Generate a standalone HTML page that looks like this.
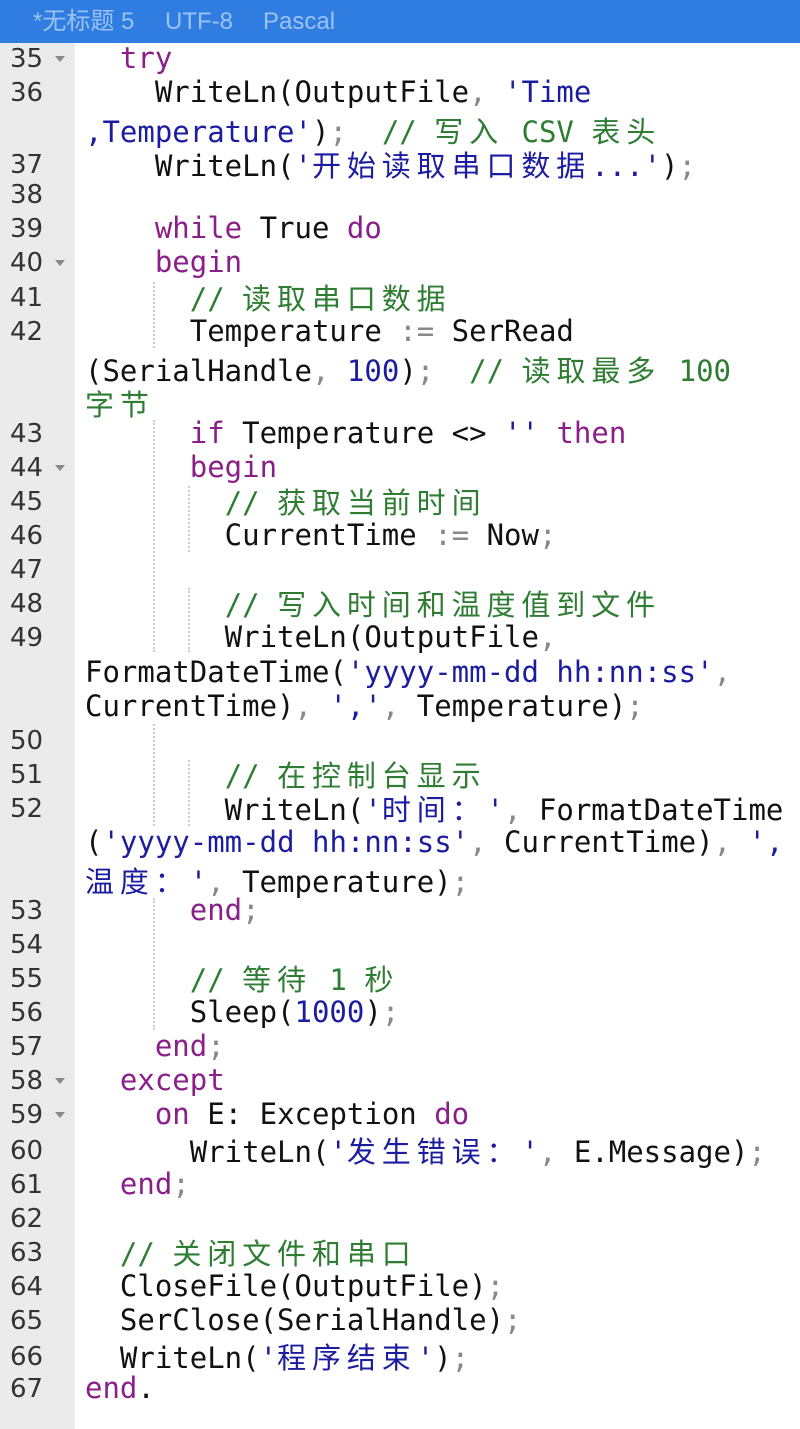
<!DOCTYPE html>
<html><head><meta charset="utf-8"><style>
body{margin:0;width:800px;height:1429px;background:#fff;position:relative;overflow:hidden}
.hdr{position:absolute;left:0;top:0;width:800px;height:43px;background:#2f7de1;color:#9cc2f2;font:24px "Liberation Sans","Noto Sans CJK SC",sans-serif;}
.hdr span{position:absolute;top:8px;line-height:28px;white-space:pre}
.gut{position:absolute;left:0;top:43px;width:75px;height:1386px;background:#ebebeb}
.n{position:absolute;left:10px;width:40px;font:26px "DejaVu Sans","Noto Sans CJK SC",sans-serif;color:#333;line-height:34px;margin-top:1px}
.f{position:absolute;left:55px;width:0;height:0;border-left:5px solid transparent;border-right:5px solid transparent;border-top:6px solid #888}
.l{position:absolute;left:85px;white-space:pre;font:29px "DejaVu Sans Mono","Liberation Mono","Noto Sans CJK SC",monospace;line-height:34px;color:#111}
.c{font-family:"Noto Sans CJK SC",sans-serif;letter-spacing:5.9px}
.k{color:#8a1f8a}.s{color:#1c1ca0}.m{color:#2e7d32}.p{color:#888}.d{color:#1c1ca0}
.g{position:absolute;border-left:2px dotted #ccc}
</style></head><body>
<div class="hdr"><span style="left:33px">*无标题 5</span><span style="left:165px">UTF-8</span><span style="left:263px">Pascal</span></div>
<div class="gut"></div>
<div class="g" style="left:153px;top:282px;height:66px"></div>
<div class="g" style="left:153px;top:420px;height:232px"></div>
<div class="g" style="left:153px;top:724px;height:102px"></div>
<div class="g" style="left:153px;top:898px;height:132px"></div>
<div class="g" style="left:188px;top:486px;height:66px"></div>
<div class="g" style="left:188px;top:588px;height:64px"></div>
<div class="g" style="left:188px;top:760px;height:66px"></div>

<div class="n" style="top:41px">35</div><div class="f" style="top:56px"></div>
<div class="l" style="top:41px">  <span class="k">try</span></div>
<div class="n" style="top:75px">36</div>
<div class="l" style="top:75px">    WriteLn(OutputFile<span class="p">,</span> <span class="s">'Time</span></div>
<div class="l" style="top:113px"><span class="s">,Temperature'</span>)<span class="p">;</span>  <span class="m">// <span class="c">写入</span> CSV <span class="c">表头</span></span></div>
<div class="n" style="top:147px">37</div>
<div class="l" style="top:147px">    WriteLn(<span class="s">'<span class="c">开始读取串口数据</span>...'</span>)<span class="p">;</span></div>
<div class="n" style="top:177px">38</div>
<div class="n" style="top:211px">39</div>
<div class="l" style="top:211px">    <span class="k">while</span> True <span class="k">do</span></div>
<div class="n" style="top:245px">40</div><div class="f" style="top:260px"></div>
<div class="l" style="top:245px">    <span class="k">begin</span></div>
<div class="n" style="top:280px">41</div>
<div class="l" style="top:280px">      <span class="m">// <span class="c">读取串口数据</span></span></div>
<div class="n" style="top:314px">42</div>
<div class="l" style="top:314px">      Temperature <span class="p">:=</span> SerRead</div>
<div class="l" style="top:352px">(SerialHandle<span class="p">,</span> <span class="d">100</span>)<span class="p">;</span>  <span class="m">// <span class="c">读取最多</span> 100</span></div>
<div class="l" style="top:386px"><span class="m"><span class="c">字节</span></span></div>
<div class="n" style="top:416px">43</div>
<div class="l" style="top:416px">      <span class="k">if</span> Temperature &lt;&gt; <span class="s">''</span> <span class="k">then</span></div>
<div class="n" style="top:450px">44</div><div class="f" style="top:465px"></div>
<div class="l" style="top:450px">      <span class="k">begin</span></div>
<div class="n" style="top:484px">45</div>
<div class="l" style="top:484px">        <span class="m">// <span class="c">获取当前时间</span></span></div>
<div class="n" style="top:518px">46</div>
<div class="l" style="top:518px">        CurrentTime <span class="p">:=</span> Now<span class="p">;</span></div>
<div class="n" style="top:552px">47</div>
<div class="n" style="top:586px">48</div>
<div class="l" style="top:586px">        <span class="m">// <span class="c">写入时间和温度值到文件</span></span></div>
<div class="n" style="top:620px">49</div>
<div class="l" style="top:620px">        WriteLn(OutputFile<span class="p">,</span></div>
<div class="l" style="top:655px">FormatDateTime(<span class="s">'yyyy-mm-dd hh:nn:ss'</span><span class="p">,</span></div>
<div class="l" style="top:689px">CurrentTime)<span class="p">,</span> <span class="s">','</span><span class="p">,</span> Temperature)<span class="p">;</span></div>
<div class="n" style="top:723px">50</div>
<div class="n" style="top:757px">51</div>
<div class="l" style="top:757px">        <span class="m">// <span class="c">在控制台显示</span></span></div>
<div class="n" style="top:791px">52</div>
<div class="l" style="top:791px">        WriteLn(<span class="s">'<span class="c">时间：</span>'</span><span class="p">,</span> FormatDateTime</div>
<div class="l" style="top:825px">(<span class="s">'yyyy-mm-dd hh:nn:ss'</span><span class="p">,</span> CurrentTime)<span class="p">,</span> <span class="s">',</span></div>
<div class="l" style="top:863px"><span class="s"><span class="c">温度：</span>'</span><span class="p">,</span> Temperature)<span class="p">;</span></div>
<div class="n" style="top:893px">53</div>
<div class="l" style="top:893px">      <span class="k">end</span><span class="p">;</span></div>
<div class="n" style="top:927px">54</div>
<div class="n" style="top:961px">55</div>
<div class="l" style="top:961px">      <span class="m">// <span class="c">等待</span> 1 <span class="c">秒</span></span></div>
<div class="n" style="top:995px">56</div>
<div class="l" style="top:995px">      Sleep(<span class="d">1000</span>)<span class="p">;</span></div>
<div class="n" style="top:1029px">57</div>
<div class="l" style="top:1029px">    <span class="k">end</span><span class="p">;</span></div>
<div class="n" style="top:1063px">58</div><div class="f" style="top:1078px"></div>
<div class="l" style="top:1063px">  <span class="k">except</span></div>
<div class="n" style="top:1097px">59</div><div class="f" style="top:1112px"></div>
<div class="l" style="top:1097px">    <span class="k">on</span> E: Exception <span class="k">do</span></div>
<div class="n" style="top:1133px">60</div>
<div class="l" style="top:1133px">      WriteLn(<span class="s">'<span class="c">发生错误：</span>'</span><span class="p">,</span> E.Message)<span class="p">;</span></div>
<div class="n" style="top:1167px">61</div>
<div class="l" style="top:1167px">  <span class="k">end</span><span class="p">;</span></div>
<div class="n" style="top:1201px">62</div>
<div class="n" style="top:1235px">63</div>
<div class="l" style="top:1235px">  <span class="m">// <span class="c">关闭文件和串口</span></span></div>
<div class="n" style="top:1269px">64</div>
<div class="l" style="top:1269px">  CloseFile(OutputFile)<span class="p">;</span></div>
<div class="n" style="top:1303px">65</div>
<div class="l" style="top:1303px">  SerClose(SerialHandle)<span class="p">;</span></div>
<div class="n" style="top:1339px">66</div>
<div class="l" style="top:1339px">  WriteLn(<span class="s">'<span class="c">程序结束</span>'</span>)<span class="p">;</span></div>
<div class="n" style="top:1371px">67</div>
<div class="l" style="top:1371px"><span class="k">end</span>.</div>
</body></html>
